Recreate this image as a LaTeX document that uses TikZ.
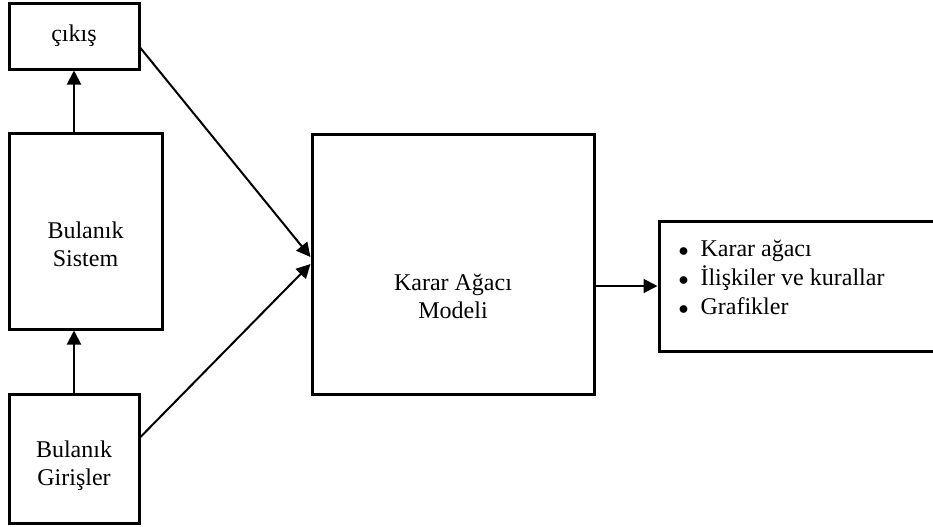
\documentclass[tikz,border=0pt]{standalone}
\usepackage{fontspec}
\setmainfont{Liberation Serif}
\usepackage{tikz}
\usetikzlibrary{arrows.meta, positioning, calc}

\newcommand{\blt}{{\fontsize{10}{10}\selectfont$\bullet$}\hspace{6pt}}

\begin{document}
\begin{tikzpicture}[
    x=0.5pt, y=-0.5pt,
    font=\fontsize{12}{14}\selectfont,
    >={Triangle[length=7pt, width=7pt]},
    block/.style={
      draw,
      line width=1.5pt,
      align=center,
      inner sep=0pt
    },
    arrow/.style={->, line width=1pt}
]
\useasboundingbox (0,0) rectangle (933,526);

\node[block, minimum width=65pt, minimum height=33pt] (cikis) at (74,36) {çıkış};
\node[block, minimum width=76.5pt, minimum height=98pt] (sistem) at (85.5,231) {};
\node[align=center] (sistemtext) at (85.5,244) {Bulanık\\Sistem};
\node[block, minimum width=65pt, minimum height=64.5pt] (girisler) at (74,458.5) {};
\node[align=center] (gir) at (74,466) {Bulanık\\Girişler};
\node[block, minimum width=141pt, minimum height=130pt] (model) at (453,264) {};
\node[align=center] (modeltext) at (453,296) {Karar Ağacı\\Modeli};
\node[block, minimum width=170.5pt, minimum height=65pt] (ciktilar) at (829.5,286) {};
\node[anchor=north west, align=left, font=\fontsize{12}{14.5}\selectfont] (liste)
  at ([shift={(14,14)}]ciktilar.north west)
  {\blt Karar ağacı\\
   \blt İlişkiler ve kurallar\\
   \blt Grafikler};

\draw[arrow] (cikis.south |- sistem.north) -- (cikis.south);
\draw[arrow] (girisler.north) -- (girisler.north |- sistem.south);
\draw[arrow] ($(cikis.east)+(0,12)$) -- ($(model.west)+(0,-7)$);
\draw[arrow] ($(girisler.east)+(0,-21.5)$) -- (model.west);
\draw[arrow] (model.east |- ciktilar.west) -- (ciktilar.west);
\end{tikzpicture}
\end{document}
